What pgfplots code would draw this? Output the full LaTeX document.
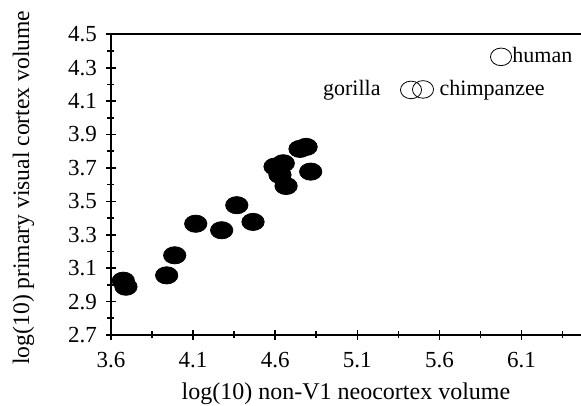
\documentclass[border=0pt]{standalone}
\usepackage{fontspec}
\setmainfont{Liberation Serif}
\usepackage{pgfplots}
\pgfplotsset{compat=1.18}
\begin{document}
\begin{tikzpicture}[font=\fontsize{11}{13}\selectfont]
\begin{axis}[
  name=ax,
  scale only axis,
  width=235pt, height=150.35pt,
  xmin=3.6, xmax=6.462, ymin=2.7, ymax=4.5,
  axis x line=box, axis y line=left,
  y axis line style={-},
  axis line style={line width=1pt, black},
  xtick={3.6,4.1,4.6,5.1,5.6,6.1},
  xticklabels={3.6,4.1,4.6,5.1,5.6,6.1},
  minor xtick={3.85,4.35,4.85,5.35,5.85,6.35},
  ytick={2.7,2.9,3.1,3.3,3.5,3.7,3.9,4.1,4.3,4.5},
  yticklabels={2.7,2.9,3.1,3.3,3.5,3.7,3.9,4.1,4.3,4.5},
  minor ytick={2.8,3.0,3.2,3.4,3.6,3.8,4.0,4.2,4.4},
  xtick pos=left, ytick pos=left,
  tick align=center,
  major tick length=5pt, minor tick length=3.5pt,
  every tick/.style={black, line width=0.8pt},
  /pgf/number format/assume math mode=true,
  ticklabel style={font=\fontsize{11.5}{13}\selectfont},
  xticklabel style={yshift=-2.5pt},
  yticklabel style={xshift=-1pt},
  xlabel={log(10) non-V1 neocortex volume},
  ylabel={log(10) primary visual cortex volume},
  xlabel style={font=\fontsize{12}{14}\selectfont, at={(axis description cs:0.5,-0.214)}, anchor=base},
  ylabel style={font=\fontsize{11.8}{14}\selectfont, at={(axis description cs:-0.186,0.49)}, anchor=center},
  clip=false,
]
\addplot[only marks, mark=*, mark size=4.3pt,
  mark options={xscale=1.3, fill=black, draw=black}] coordinates {
  (3.675,3.025) (3.691,2.989) (3.939,3.057) (3.988,3.177)
  (4.116,3.366) (4.274,3.327) (4.366,3.477) (4.465,3.377)
  (4.599,3.708) (4.649,3.728) (4.629,3.658) (4.666,3.592)
  (4.751,3.814) (4.788,3.826) (4.816,3.678)
};
\addplot[only marks, mark=o, mark size=4.4pt,
  mark options={xscale=1.2, line width=0.4pt, draw=black}] coordinates {
  (5.975,4.365) (5.427,4.167) (5.500,4.170)
};
\node[anchor=base west, inner sep=0pt] at (axis cs:6.042,4.329) {human};
\node[anchor=base west, inner sep=0pt] at (axis cs:5.599,4.133) {chimpanzee};
\node[anchor=base west, inner sep=0pt] at (axis cs:4.889,4.133) {gorilla};
\end{axis}
\pgfresetboundingbox
\path[use as bounding box] ([xshift=-55.5pt, yshift=-35.5pt]ax.south west) rectangle ([yshift=17.15pt]ax.north east);
\end{tikzpicture}
\end{document}
